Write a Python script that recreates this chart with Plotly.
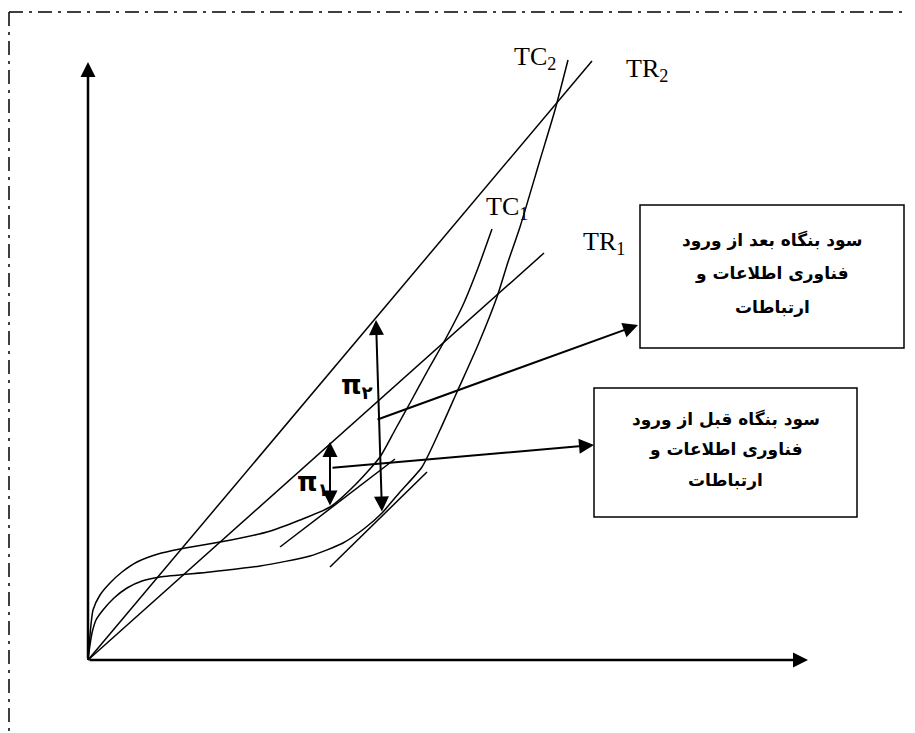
import plotly.graph_objects as go

# ---- data (diagram units: x = output, y = cost / revenue) ----
tc1_q    = [0, 2, 5, 12, 22, 34, 49, 70, 92, 132, 179, 212, 242, 267, 292, 307, 322, 340, 357, 375, 390, 404]
tc1_cost = [0, 25, 50, 65, 77, 88, 98, 106, 111, 118, 128, 140, 153, 175, 203, 230, 257, 290, 320, 355, 392, 431]

tc2_q    = [0, 2, 4, 8, 15, 26, 39, 54, 72, 122, 172, 222, 255, 277, 294, 312, 334, 352, 369, 390, 409, 420, 432, 452, 467, 480]
tc2_cost = [0, 15, 27, 40, 50, 62, 72, 79, 83, 88, 94, 104, 117, 132, 147, 168, 193, 230, 268, 315, 363, 398, 433, 500, 550, 600]

tr1_q   = [0, 456]
tr1_rev = [0, 407]
tr2_q   = [0, 504]
tr2_rev = [0, 599]

tan1_q = [192, 307]
tan1_v = [113, 201]
tan2_q = [242, 339]
tan2_v = [93, 188]

# profit arrows (x, y_bottom, x_top, y_top)
pi1 = (242, 153, 242, 218)
pi2 = (294, 147, 288, 340)

# callout arrows (tail -> head)
call1 = ((288, 240), (550, 335))
call2 = ((243, 192), (506, 215))

axis_x_end = 720
axis_y_end = 598

box1 = (552, 816, 312, 455)
box2 = (506, 769, 143, 272)
box1_lines = ["سود بنگاه بعد از ورود", "فناوری اطلاعات و", "ارتباطات"]
box2_lines = ["سود بنگاه قبل از ورود", "فناوری اطلاعات و", "ارتباطات"]

fig = go.Figure()
for xs, ys, shp in [(tc1_q, tc1_cost, "spline"), (tc2_q, tc2_cost, "spline"),
                    (tr1_q, tr1_rev, "linear"), (tr2_q, tr2_rev, "linear"),
                    (tan1_q, tan1_v, "linear"), (tan2_q, tan2_v, "linear")]:
    fig.add_trace(go.Scatter(x=xs, y=ys, mode="lines",
                             line=dict(color="black", width=1.5, shape=shp, smoothing=0.6),
                             hoverinfo="skip", showlegend=False))

ann = []
def arrow(tail, head, width=2, size=1.5, both=False):
    d = dict(x=head[0], y=head[1], ax=tail[0], ay=tail[1], xref="x", yref="y",
             axref="x", ayref="y", text="", showarrow=True, arrowhead=2,
             arrowsize=size, arrowwidth=width, arrowcolor="black")
    if both:
        d.update(arrowside="end+start", startarrowhead=2, startarrowsize=size)
    ann.append(d)

arrow((0, 0), (axis_x_end, 0), width=2.5, size=1.2)
arrow((0, 0), (0, axis_y_end), width=2.5, size=1.2)
arrow((pi1[0], pi1[1]), (pi1[2], pi1[3]), both=True)
arrow((pi2[0], pi2[1]), (pi2[2], pi2[3]), both=True)
arrow(call1[0], call1[1])
arrow(call2[0], call2[1])

serif = dict(family="Liberation Serif", size=26, color="black")
labels = [("TC<sub>2</sub>", 447, 602), ("TR<sub>2</sub>", 559, 590),
          ("TC<sub>1</sub>", 419, 452), ("TR<sub>1</sub>", 516, 417)]
for t, x, y in labels:
    ann.append(dict(x=x, y=y, xref="x", yref="y", text=t, showarrow=False, font=serif))

pifont = dict(family="DejaVu Sans", size=26, color="black")
ann.append(dict(x=269, y=274, xref="x", yref="y", text="<b>π<sub>۲</sub></b>", showarrow=False, font=pifont))
ann.append(dict(x=225, y=177, xref="x", yref="y", text="<b>π<sub>۱</sub></b>", showarrow=False, font=pifont))

fa = dict(family="DejaVu Sans", size=17, color="black")
for box, lines in [(box1, box1_lines), (box2, box2_lines)]:
    x0, x1, y0, y1 = box
    cx = (x0 + x1) / 2
    h = y1 - y0
    for i, t in enumerate(lines):
        ann.append(dict(x=cx, y=y1 - h * (0.245 + 0.235 * i), xref="x", yref="y",
                        text="<b>" + t + "</b>", showarrow=False, font=fa))

shapes = []
for x0, x1, y0, y1 in [box1, box2]:
    shapes.append(dict(type="rect", xref="x", yref="y", x0=x0, x1=x1, y0=y0, y1=y1,
                       line=dict(color="black", width=1.5), fillcolor="white", layer="below"))
frame_dash = "14px,6px,3px,6px"
shapes.append(dict(type="line", xref="x", yref="y", x0=-79, x1=840, y0=648, y1=648,
                   line=dict(color="black", width=1.5, dash=frame_dash)))
shapes.append(dict(type="line", xref="x", yref="y", x0=-79, x1=-79, y0=648, y1=-90,
                   line=dict(color="black", width=1.5, dash=frame_dash)))

# the page body adds an 8px offset; ranges compensate so marks land where the reference has them
fig.update_layout(width=915, height=733, margin=dict(l=0, r=0, t=0, b=0),
                  paper_bgcolor="white", plot_bgcolor="white",
                  xaxis=dict(range=[-80, 835], visible=False, fixedrange=True),
                  yaxis=dict(range=[-81, 652], visible=False, fixedrange=True),
                  annotations=ann, shapes=shapes, showlegend=False)
fig.write_html("out.html")
